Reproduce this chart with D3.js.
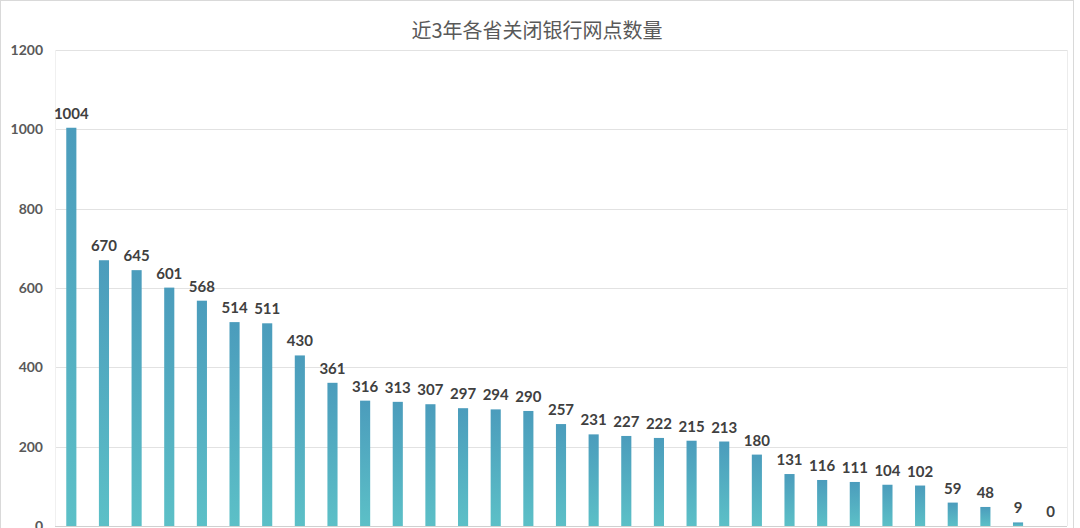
<!DOCTYPE html>
<html>
<head>
<meta charset="utf-8">
<script src="https://cdnjs.cloudflare.com/ajax/libs/d3/7.8.5/d3.min.js"></script>
<style>
  html, body { margin: 0; padding: 0; background: #fff; overflow: hidden; }
</style>
</head>
<body>
<div id="chart"></div>
<script>
// values, provinces sorted high to low
var values = [1004, 670, 645, 601, 568, 514, 511, 430, 361, 316, 313, 307, 297, 294, 290,
  257, 231, 227, 222, 215, 213, 180, 131, 116, 111, 104, 102, 59, 48, 9, 0];
var categories = values.map(function(d, i) { return 'p' + i; });
var yTicks = [0, 200, 400, 600, 800, 1000, 1200];
var title = '近3年各省关闭银行网点数量';

var W = 1080, H = 528;
var plotLeft = 55, plotRight = 1067, plotTop = 50, plotBottom = 526;

var svg = d3.select('#chart')
  .append('svg')
  .attr('width', W)
  .attr('height', H);

// outer chart border
svg.append('rect')
  .attr('x', 0.5)
  .attr('y', 0.5)
  .attr('width', 1073)
  .attr('height', H + 10)
  .style('fill', 'none')
  .style('stroke', '#d9d9d9');

var defs = svg.append('defs');
var grad = defs.append('linearGradient')
  .attr('id', 'barGrad')
  .attr('x1', 0).attr('y1', 0)
  .attr('x2', 0).attr('y2', 1);
grad.append('stop').attr('offset', '0%').attr('stop-color', '#4b9cbc');
grad.append('stop').attr('offset', '100%').attr('stop-color', '#5cc0c7');

var x = d3.scaleBand()
  .domain(categories)
  .range([plotLeft, plotRight])
  .paddingInner(0.69)
  .paddingOuter(0.345);

var y = d3.scaleLinear()
  .domain([0, 1200])
  .range([plotBottom, plotTop]);

// gridlines
svg.append('g')
  .selectAll('line')
  .data(yTicks)
  .enter()
  .append('line')
  .attr('x1', plotLeft)
  .attr('x2', plotRight)
  .attr('y1', function(d) { return Math.round(y(d)) + 0.5; })
  .attr('y2', function(d) { return Math.round(y(d)) + 0.5; })
  .style('stroke', function(d) { return d === 0 ? '#d0d0d0' : '#e2e2e2'; });

// faint plot frame sides
svg.append('line')
  .attr('x1', plotLeft + 0.5).attr('x2', plotLeft + 0.5)
  .attr('y1', plotTop).attr('y2', plotBottom)
  .style('stroke', '#f0f0f0');
svg.append('line')
  .attr('x1', plotRight + 0.5).attr('x2', plotRight + 0.5)
  .attr('y1', plotTop).attr('y2', plotBottom)
  .style('stroke', '#ececec');

// y axis labels
var yAxis = d3.axisLeft(y)
  .tickValues(yTicks)
  .tickFormat(d3.format('d'))
  .tickSize(0)
  .tickPadding(12);

var axisG = svg.append('g')
  .attr('transform', 'translate(' + plotLeft + ',0)')
  .call(yAxis);
axisG.select('.domain').remove();
axisG.selectAll('text')
  .style('font-family', 'Lato, "Open Sans", sans-serif')
  .style('font-weight', 'bold')
  .style('font-size', '14px')
  .style('fill', '#595959');

// bars
svg.append('g')
  .selectAll('rect')
  .data(values)
  .enter()
  .append('rect')
  .attr('x', function(d, i) { return x(categories[i]); })
  .attr('y', function(d) { return y(d); })
  .attr('width', x.bandwidth())
  .attr('height', function(d) { return plotBottom - y(d); })
  .style('fill', 'url(#barGrad)');

// value labels
svg.append('g')
  .selectAll('text')
  .data(values)
  .enter()
  .append('text')
  .attr('x', function(d, i) { return x(categories[i]) + x.bandwidth() / 2; })
  .attr('y', function(d) { return y(d) - 9; })
  .attr('text-anchor', 'middle')
  .style('font-family', 'Lato, "Open Sans", sans-serif')
  .style('font-weight', 'bold')
  .style('font-size', '15px')
  .style('fill', '#404040')
  .text(function(d) { return d; });

// title
svg.append('text')
  .attr('x', 537)
  .attr('y', 38)
  .attr('text-anchor', 'middle')
  .style('font-family', '"Noto Sans CJK SC", sans-serif')
  .style('font-size', '20px')
  .style('fill', '#595959')
  .text(title);
</script>
</body>
</html>
